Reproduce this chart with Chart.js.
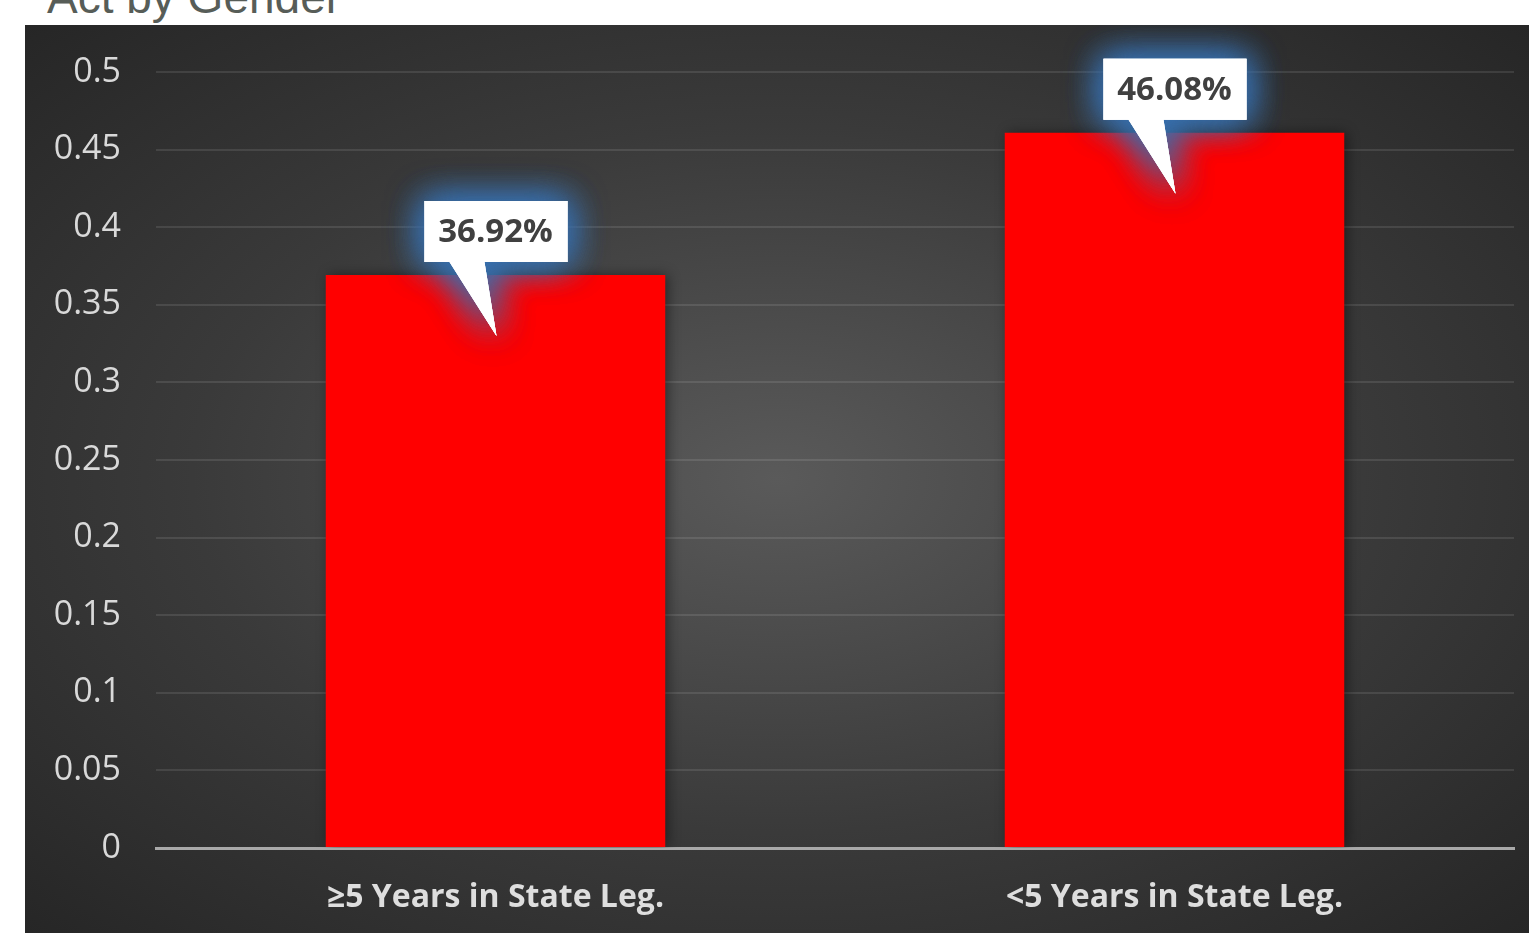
<!DOCTYPE html>
<html>
<head>
<meta charset="utf-8">
<script src="https://cdn.jsdelivr.net/npm/chart.js@4/dist/chart.umd.min.js"></script>
<style>
  html, body { margin: 0; padding: 0; background: #ffffff; overflow: hidden; width: 1529px; height: 933px; }
  #title {
    position: absolute; left: 47px; top: -26px; margin: 0;
    font-family: "Liberation Sans", Arial, sans-serif; font-weight: normal;
    font-size: 46px; line-height: 46px; color: #575d58; white-space: nowrap;
  }
  #panel {
    position: absolute; left: 25px; top: 25px; width: 1504px; height: 908px;
    background: radial-gradient(ellipse farthest-corner at 50% 50%, #5a5a5a 0%, #3a3a3a 55%, #262626 100%);
  }
  canvas { display: block; }
</style>
</head>
<body>
<h1 id="title">Act by Gender</h1>
<div id="panel"><canvas id="chart" width="1504" height="908"></canvas></div>
<script>
// Share of each group, by years served in the state legislature
const categories = ['\u22655 Years in State Leg.', '<5 Years in State Leg.'];
const shares = [0.3692, 0.4608];
const yTicks = [0, 0.05, 0.1, 0.15, 0.2, 0.25, 0.3, 0.35, 0.4, 0.45, 0.5];

const pctLabel = v => (v * 100).toFixed(2) + '%';

// Soft dark shadow behind the bars
const barShadow = {
  id: 'barShadow',
  beforeDatasetDraw(chart) {
    const ctx = chart.ctx;
    ctx.save();
    ctx.shadowColor = 'rgba(0,0,0,0.45)';
    ctx.shadowBlur = 12;
    ctx.shadowOffsetX = 3;
  },
  afterDatasetDraw(chart) { chart.ctx.restore(); }
};

// White callout boxes with a blue glow, pointing into each bar
const callouts = {
  id: 'callouts',
  afterDatasetsDraw(chart) {
    const ctx = chart.ctx;
    const meta = chart.getDatasetMeta(0);
    meta.data.forEach((bar, i) => {
      const cx = bar.x, top = bar.y;
      const w = 143, h = 61;
      const left = cx - 71, bottom = top - 13, boxTop = bottom - h;
      const tipX = cx + 1, tipY = top + 61;
      const baseL = left + 25, baseR = left + 60;
      const path = () => {
        ctx.beginPath();
        ctx.moveTo(left, boxTop);
        ctx.lineTo(left + w, boxTop);
        ctx.lineTo(left + w, bottom);
        ctx.lineTo(baseR, bottom);
        ctx.lineTo(tipX, tipY);
        ctx.lineTo(baseL, bottom);
        ctx.lineTo(left, bottom);
        ctx.closePath();
      };
      ctx.save();
      ctx.fillStyle = '#ffffff';
      ctx.shadowColor = 'rgba(55,112,175,0.9)';
      ctx.shadowBlur = 36;
      for (let k = 0; k < 3; k++) { path(); ctx.fill(); }
      ctx.shadowBlur = 0;
      ctx.shadowColor = 'transparent';
      path(); ctx.fill();
      ctx.fillStyle = '#404040';
      ctx.font = 'bold 33px "Open Sans", sans-serif';
      ctx.textAlign = 'center';
      ctx.textBaseline = 'middle';
      ctx.fillText(pctLabel(shares[i]), cx, boxTop + h / 2 + 1);
      ctx.restore();
    });
  }
};

new Chart(document.getElementById('chart'), {
  type: 'bar',
  data: {
    labels: categories,
    datasets: [{
      data: shares,
      backgroundColor: '#ff0000',
      borderWidth: 0,
      barPercentage: 0.5,
      categoryPercentage: 1.0
    }]
  },
  options: {
    responsive: false,
    animation: false,
    devicePixelRatio: 1,
    layout: { padding: { top: 47, right: 15, bottom: 0, left: 0 } },
    plugins: { legend: { display: false }, tooltip: { enabled: false }, title: { display: false } },
    scales: {
      x: {
        grid: { display: false, drawTicks: false },
        border: { display: true, color: '#a9a9a9', width: 3 },
        ticks: {
          color: '#dedede',
          padding: 31,
          font: { family: '"Open Sans", sans-serif', size: 32, weight: 'bold' }
        },
        afterFit(scale) { scale.height = 85; }
      },
      y: {
        min: 0,
        max: 0.5,
        afterBuildTicks(scale) { scale.ticks = yTicks.map(v => ({ value: v })); },
        grid: {
          color: 'rgba(255,255,255,0.1)', lineWidth: 2,
          drawTicks: true, tickLength: 30, tickColor: 'rgba(0,0,0,0)'
        },
        border: { display: false },
        ticks: {
          color: '#d9d9d9',
          padding: 5,
          font: { family: '"Open Sans", sans-serif', size: 34 },
          callback: v => String(v)
        },
        afterFit(scale) { scale.width = 131; }
      }
    }
  },
  plugins: [barShadow, callouts]
});
</script>
</body>
</html>
